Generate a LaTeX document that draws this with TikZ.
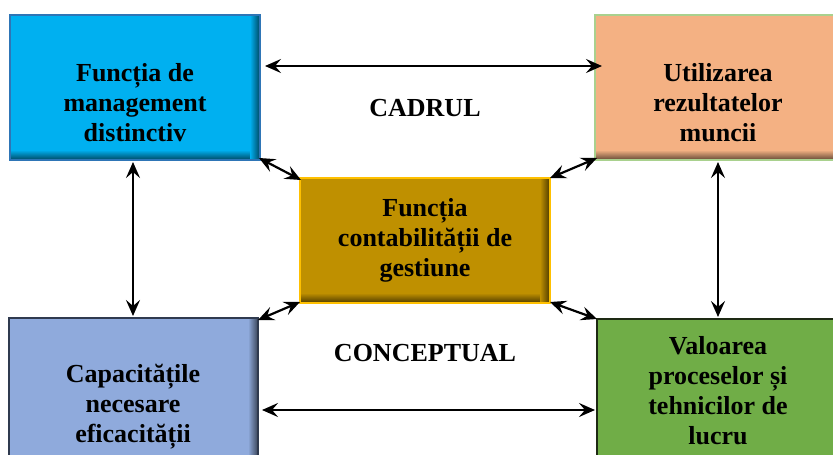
\documentclass[tikz,border=0pt]{standalone}
\usepackage{fontspec}
\setmainfont{Liberation Serif}
\usetikzlibrary{arrows.meta,calc}
\definecolor{cTL}{HTML}{00B0F0}
\definecolor{bTL}{HTML}{2E75B6}
\definecolor{cTR}{HTML}{F4B183}
\definecolor{bTR}{HTML}{A9D18E}
\definecolor{cC}{HTML}{BF9000}
\definecolor{bC}{HTML}{FFC000}
\definecolor{cBL}{HTML}{8FAADC}
\definecolor{bBL}{HTML}{2F3A4F}
\definecolor{cBR}{HTML}{70AD47}
\definecolor{bBR}{HTML}{1E2A14}
\tikzset{
  boxtxt/.style={align=center,font=\fontsize{26}{30}\selectfont\bfseries,inner sep=0pt},
  lbl/.style={font=\fontsize{26}{30}\selectfont\bfseries,inner sep=0pt},
  arr/.style={{Stealth[length=16pt,width=14pt,inset=6pt]}-{Stealth[length=16pt,width=14pt,inset=6pt]},line width=2.2pt,black},
  plainbox/.style={draw=none,inner sep=0pt,outer sep=0pt,anchor=north west}
}
\newcommand{\mybox}[8]{% name, x1,y1,x2,y2, fill, border, shadowflags
  \fill[#6] (#2,#3) rectangle (#4,#5);
  \ifnum#8>0
    \shade[top color=#6, bottom color=#6!40!black] (#2,#5-10) rectangle (#4,#5);
  \fi
  \ifnum#8>1
    \shade[left color=#6, right color=#6!40!black] (#4-10,#3) rectangle (#4,#5);
  \fi
  \draw[#7,line width=1.2pt] (#2,#3) rectangle (#4,#5);
  \node[plainbox,minimum width=#4-#2,minimum height=#5-#3] (#1) at (#2,#3) {};
}
\begin{document}
\begin{tikzpicture}[x=1pt,y=-1pt]
\useasboundingbox (0,0) rectangle (833,455);
\clip (0,0) rectangle (833,455);
\fill[white] (0,0) rectangle (833,455);
% boxes
\mybox{tl}{10}{15}{260}{160}{cTL}{bTL}{2}
\mybox{tr}{595}{15}{840}{160}{cTR}{bTR}{1}
\mybox{c}{300}{178}{550}{303}{cC}{bC}{2}
\mybox{bl}{9}{318}{258}{465}{cBL}{bBL}{2}
\mybox{br}{597}{319}{840}{465}{cBR}{bBR}{0}
% texts
\node[boxtxt] (ttl) at (135,103) {Funcția de\\management\\distinctiv};
\node[boxtxt] (ttr) at (718,103) {Utilizarea\\rezultatelor\\muncii};
\node[boxtxt] (tc) at (425,240) {Funcția\\contabilității de\\gestiune};
\node[boxtxt] (tbl) at (133,407) {Capacitățile\\necesare\\eficacității};
\node[boxtxt] (tbr) at (718,391) {Valoarea\\proceselor și\\tehnicilor de\\lucru};
\node[lbl] (cadrul) at (425,108) {CADRUL};
\node[lbl] (concept) at (425,353) {CONCEPTUAL};
% arrows
\draw[arr] ($(tl.north east)+(5,51)$) -- ($(tr.north west)+(7,51)$);
\draw[arr] ($(bl.north east)+(4,92)$) -- ($(br.north west)+(-2,91)$);
\draw[arr] ($(tl.south west)+(123,2)$) -- ($(bl.north west)+(124,-2)$);
\draw[arr] ($(tr.south west)+(123,2)$) -- ($(br.north west)+(121,-2)$);
\draw[arr] ($(tl.south east)+(-1,-2)$) -- ($(c.north west)+(1,2)$);
\draw[arr] ($(tr.south west)+(2,-2)$) -- ($(c.north east)+(0,0)$);
\draw[arr] ($(c.south west)+(0,-1)$) -- ($(bl.north east)+(0,2)$);
\draw[arr] ($(c.south east)+(0,-1)$) -- ($(br.north west)+(0,0)$);
\end{tikzpicture}
\end{document}
